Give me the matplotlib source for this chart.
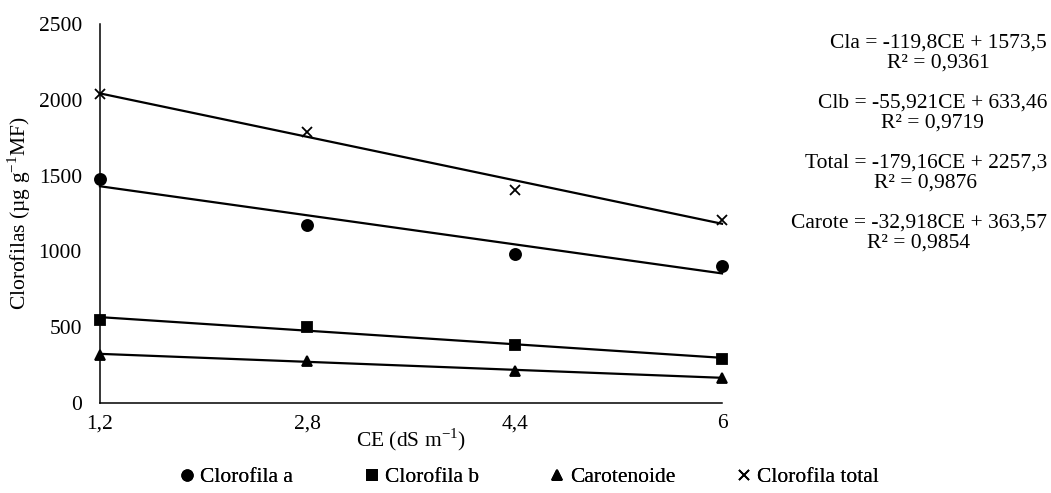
import matplotlib.pyplot as plt
import numpy as np

plt.rcParams['font.family'] = ['Liberation Serif', 'DejaVu Serif']
plt.rcParams['mathtext.fontset'] = 'custom'
plt.rcParams['mathtext.rm'] = 'Liberation Serif'

# data
ce = [1.2, 2.8, 4.4, 6]
ce_labels = ["1,2", "2,8", "4,4", "6"]
cla = [1480, 1175, 985, 905]
clb = [545, 500, 385, 290]
carote = [315, 275, 210, 165]
total = [2035, 1785, 1405, 1205]

# trendline coefficients (slope, intercept) from the equations
fit_cla = (-119.8, 1573.5)
fit_clb = (-55.921, 633.46)
fit_total = (-179.16, 2257.3)
fit_carote = (-32.918, 363.57)

names = ["Clorofila a", "Clorofila b", "Carotenoide", "Clorofila total"]
equations = ["Cla = -119,8CE + 1573,5\nR² = 0,9361",
             "Clb = -55,921CE + 633,46\nR² = 0,9719",
             "Total = -179,16CE + 2257,3\nR² = 0,9876",
             "Carote = -32,918CE + 363,57\nR² = 0,9854"]

fs = 15.5
fig = plt.figure(figsize=(10.51, 4.93), dpi=100)
ax = fig.add_axes([0.0951, 0.1826, 0.687 - 0.0951, 0.9513 - 0.1826])

series = [(cla, fit_cla, 'o', 8), (clb, fit_clb, 's', 7.5),
          (carote, fit_carote, '^', 7.5), (total, fit_total, 'x', 7)]

xs = np.array([ce[0], ce[-1]])
handles = []
for vals, fit, mk, ms in series:
    ax.plot(xs, fit[0] * xs + fit[1], color='black', lw=1.6, clip_on=False)
    h, = ax.plot(ce, vals, linestyle='none', marker=mk, ms=ms, color='black',
                 mew=1.3, clip_on=False, zorder=3)
    handles.append(h)

ax.set_xlim(1.2, 6)
ax.set_ylim(0, 2500)
ax.set_xticks(ce)
ax.set_xticklabels(ce_labels)
ax.set_yticks(np.arange(0, 2501, 500))
ax.tick_params(length=0, labelsize=fs)
ax.tick_params(axis='y', pad=13)
ax.tick_params(axis='x', pad=8)
for s in ['top', 'right']:
    ax.spines[s].set_visible(False)
for s in ['left', 'bottom']:
    ax.spines[s].set_linewidth(1.1)

ax.set_ylabel("Clorofilas (µg g$^{\\mathregular{-1}}$MF)", fontsize=fs, labelpad=4)
ax.set_xlabel("CE (dS m$^{\\mathregular{-1}}$)", fontsize=fs, labelpad=-5)

# trendline equations, one block each
for i, eq in enumerate(equations):
    fig.text(1047 / 1051, 1 - (34 + 60 * i) / 493, eq, ha='right', va='top',
             multialignment='center', fontsize=fs, linespacing=1.02)

# legend entries in equal-width slots
slots = [170, 355, 540, 727]
for h, name, px in zip(handles, names, slots):
    leg = fig.legend([h], [name], loc='center left',
                     bbox_to_anchor=(px / 1051, 1 - 477 / 493),
                     frameon=False, fontsize=fs, handlelength=0.6,
                     handletextpad=0.3, borderpad=0, markerscale=0.95)
    for t in leg.get_texts():
        t.set_fontfamily('Liberation Serif')
    fig.add_artist(leg)

fig.savefig("out.png", dpi=100)
